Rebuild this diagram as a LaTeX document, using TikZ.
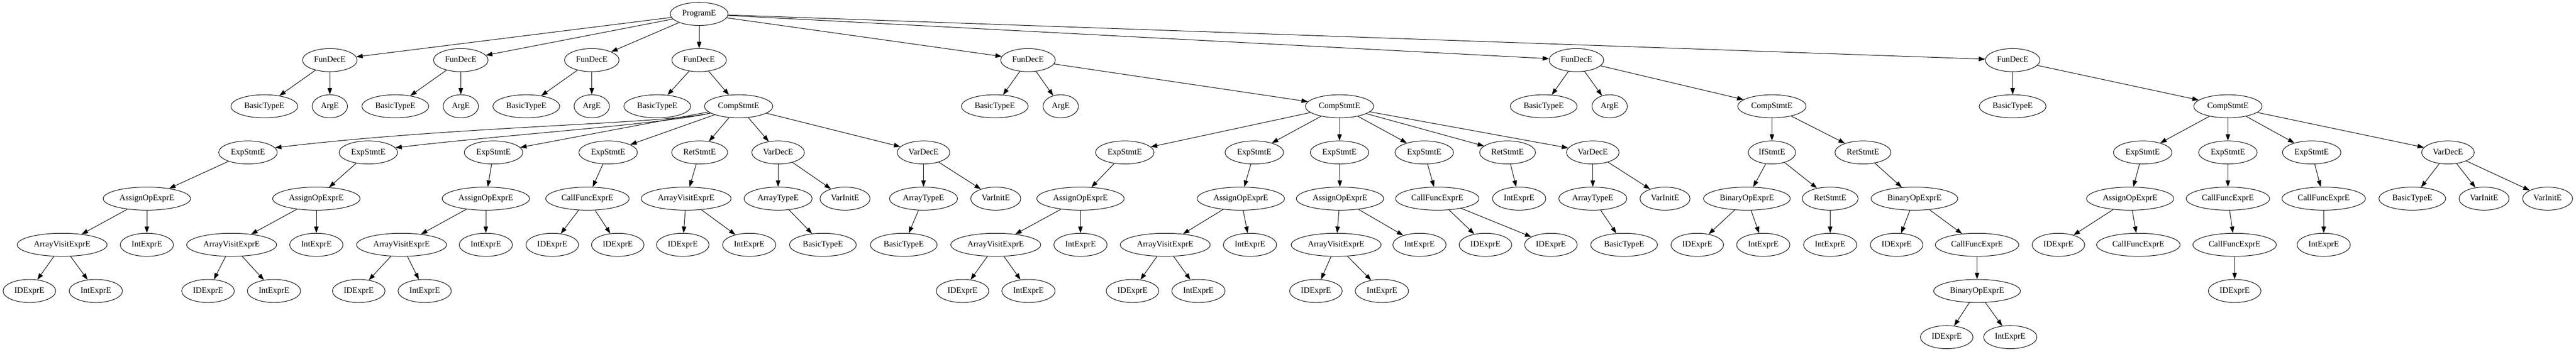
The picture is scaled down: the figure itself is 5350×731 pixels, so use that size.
\documentclass[tikz,border=0pt]{standalone}
\usepackage{fontspec}
\setmainfont{Liberation Serif}
\usepackage{tikz}
\usetikzlibrary{arrows.meta}
\usetikzlibrary{shapes.geometric}
\tikzset{
    astnode/.style={shape=ellipse, draw, line width=0.8pt, minimum width=54pt, minimum height=36pt,
        inner xsep=5.5pt, inner ysep=1pt, text height=9pt, text depth=3pt,
        font=\fontsize{13pt}{15pt}\selectfont},
    astedge/.style={->, line width=0.8pt},
    >={Triangle[length=10pt, width=7pt]}}

\begin{document}
\begin{tikzpicture}[x=0.75pt, y=-0.75pt]

        \path[fill=white, use as bounding box] (0,0) rectangle (5350,731);

        % level 0 and 1
        \node[astnode] (prog) at (1452,29) {ProgramE};
        \node[astnode] (fun1) at (685,125) {FunDecE};
        \node[astnode] (fun2) at (957,125) {FunDecE};
        \node[astnode] (fun3) at (1229,125) {FunDecE};
        \node[astnode] (fun4) at (1452,125) {FunDecE};
        \node[astnode] (fun5) at (2135,125) {FunDecE};
        \node[astnode] (fun6) at (3274,125) {FunDecE};
        \node[astnode] (fun7) at (4180,125) {FunDecE};

        % level 2
        \node[astnode] (typ1) at (549,221) {BasicTypeE};
        \node[astnode] (arg1) at (685,221) {ArgE};
        \node[astnode] (typ2) at (821,221) {BasicTypeE};
        \node[astnode] (arg2) at (957,221) {ArgE};
        \node[astnode] (typ3) at (1093,221) {BasicTypeE};
        \node[astnode] (arg3) at (1229,221) {ArgE};
        \node[astnode] (typ4) at (1365,221) {BasicTypeE};
        \node[astnode] (comp4) at (1534,221) {CompStmtE};
        \node[astnode] (typ5) at (2066,221) {BasicTypeE};
        \node[astnode] (arg5) at (2203,221) {ArgE};
        \node[astnode] (comp5) at (2782,221) {CompStmtE};
        \node[astnode] (typ6) at (3206,221) {BasicTypeE};
        \node[astnode] (arg6) at (3343,221) {ArgE};
        \node[astnode] (comp6) at (3680,221) {CompStmtE};
        \node[astnode] (typ7) at (4180,221) {BasicTypeE};
        \node[astnode] (comp7) at (4627,221) {CompStmtE};

        % level 3
        \node[astnode] (s41) at (515,317) {ExpStmtE};
        \node[astnode] (s42) at (765,317) {ExpStmtE};
        \node[astnode] (s43) at (1025,317) {ExpStmtE};
        \node[astnode] (s44) at (1263,317) {ExpStmtE};
        \node[astnode] (s45) at (1453,317) {RetStmtE};
        \node[astnode] (s46) at (1616,317) {VarDecE};
        \node[astnode] (s47) at (1918,317) {VarDecE};
        \node[astnode] (s51) at (2336,317) {ExpStmtE};
        \node[astnode] (s52) at (2605,317) {ExpStmtE};
        \node[astnode] (s53) at (2782,317) {ExpStmtE};
        \node[astnode] (s54) at (2958,317) {ExpStmtE};
        \node[astnode] (s55) at (3131,317) {RetStmtE};
        \node[astnode] (s56) at (3308,317) {VarDecE};
        \node[astnode] (s61) at (3680,317) {IfStmtE};
        \node[astnode] (s62) at (3869,317) {RetStmtE};
        \node[astnode] (s71) at (4450,317) {ExpStmtE};
        \node[astnode] (s72) at (4627,317) {ExpStmtE};
        \node[astnode] (s73) at (4801,317) {ExpStmtE};
        \node[astnode] (s74) at (5084,317) {VarDecE};

        % level 4
        \node[astnode] (e41) at (305,413) {AssignOpExprE};
        \node[astnode] (e42) at (657,413) {AssignOpExprE};
        \node[astnode] (e43) at (1009,413) {AssignOpExprE};
        \node[astnode] (e44) at (1220,413) {CallFuncExprE};
        \node[astnode] (e45) at (1425,413) {ArrayVisitExprE};
        \node[astnode] (e46) at (1616,413) {ArrayTypeE};
        \node[astnode] (v46) at (1755,413) {VarInitE};
        \node[astnode] (e47) at (1918,413) {ArrayTypeE};
        \node[astnode] (v47) at (2068,413) {VarInitE};
        \node[astnode] (e51) at (2244,413) {AssignOpExprE};
        \node[astnode] (e52) at (2577,413) {AssignOpExprE};
        \node[astnode] (e53) at (2783,413) {AssignOpExprE};
        \node[astnode] (e54) at (2985,413) {CallFuncExprE};
        \node[astnode] (e55) at (3155,413) {IntExprE};
        \node[astnode] (e56) at (3308,413) {ArrayTypeE};
        \node[astnode] (v56) at (3458,413) {VarInitE};
        \node[astnode] (e61) at (3628,413) {BinaryOpExprE};
        \node[astnode] (r61) at (3801,413) {RetStmtE};
        \node[astnode] (e62) at (3976,413) {BinaryOpExprE};
        \node[astnode] (e71) at (4424,413) {AssignOpExprE};
        \node[astnode] (e72) at (4627,413) {CallFuncExprE};
        \node[astnode] (e73) at (4826,413) {CallFuncExprE};
        \node[astnode] (t74) at (5010,413) {BasicTypeE};
        \node[astnode] (v74) at (5159,413) {VarInitE};
        \node[astnode] (w74) at (5291,413) {VarInitE};

        % level 5
        \node[astnode] (av41) at (129,509) {ArrayVisitExprE};
        \node[astnode] (n41) at (305,509) {IntExprE};
        \node[astnode] (av42) at (481,509) {ArrayVisitExprE};
        \node[astnode] (n42) at (657,509) {IntExprE};
        \node[astnode] (av43) at (834,509) {ArrayVisitExprE};
        \node[astnode] (n43) at (1009,509) {IntExprE};
        \node[astnode] (id44a) at (1147,509) {IDExprE};
        \node[astnode] (id44b) at (1283,509) {IDExprE};
        \node[astnode] (id45) at (1418,509) {IDExprE};
        \node[astnode] (n45) at (1556,509) {IntExprE};
        \node[astnode] (bt46) at (1709,509) {BasicTypeE};
        \node[astnode] (bt47) at (1877,509) {BasicTypeE};
        \node[astnode] (av51) at (2068,509) {ArrayVisitExprE};
        \node[astnode] (n51) at (2244,509) {IntExprE};
        \node[astnode] (av52) at (2420,509) {ArrayVisitExprE};
        \node[astnode] (n52) at (2596,509) {IntExprE};
        \node[astnode] (av53) at (2775,509) {ArrayVisitExprE};
        \node[astnode] (n53) at (2948,509) {IntExprE};
        \node[astnode] (id54a) at (3085,509) {IDExprE};
        \node[astnode] (id54b) at (3221,509) {IDExprE};
        \node[astnode] (bt56) at (3373,509) {BasicTypeE};
        \node[astnode] (id61) at (3525,509) {IDExprE};
        \node[astnode] (n61) at (3662,509) {IntExprE};
        \node[astnode] (n61r) at (3801,509) {IntExprE};
        \node[astnode] (id62) at (3939,509) {IDExprE};
        \node[astnode] (cf62) at (4106,509) {CallFuncExprE};
        \node[astnode] (id71) at (4275,509) {IDExprE};
        \node[astnode] (cf71) at (4441,509) {CallFuncExprE};
        \node[astnode] (cf72) at (4641,509) {CallFuncExprE};
        \node[astnode] (n73) at (4826,509) {IntExprE};

        % level 6 and 7
        \node[astnode] (id41) at (61,605) {IDExprE};
        \node[astnode] (m41) at (199,605) {IntExprE};
        \node[astnode] (id42) at (432,605) {IDExprE};
        \node[astnode] (m42) at (569,605) {IntExprE};
        \node[astnode] (id43) at (745,605) {IDExprE};
        \node[astnode] (m43) at (882,605) {IntExprE};
        \node[astnode] (id51) at (1999,605) {IDExprE};
        \node[astnode] (m51) at (2136,605) {IntExprE};
        \node[astnode] (id52) at (2352,605) {IDExprE};
        \node[astnode] (m52) at (2489,605) {IntExprE};
        \node[astnode] (id53) at (2733,605) {IDExprE};
        \node[astnode] (m53) at (2870,605) {IntExprE};
        \node[astnode] (bo62) at (4106,605) {BinaryOpExprE};
        \node[astnode] (id72) at (4641,605) {IDExprE};
        \node[astnode] (id62b) at (4043,701) {IDExprE};
        \node[astnode] (m62b) at (4175,701) {IntExprE};

        % edges
        \draw[astedge] (prog) -- (fun1);
        \draw[astedge] (prog) -- (fun2);
        \draw[astedge] (prog) -- (fun3);
        \draw[astedge] (prog) -- (fun4);
        \draw[astedge] (prog) -- (fun5);
        \draw[astedge] (prog) -- (fun6);
        \draw[astedge] (prog) -- (fun7);

        \draw[astedge] (fun1) -- (typ1);
        \draw[astedge] (fun1) -- (arg1);
        \draw[astedge] (fun2) -- (typ2);
        \draw[astedge] (fun2) -- (arg2);
        \draw[astedge] (fun3) -- (typ3);
        \draw[astedge] (fun3) -- (arg3);
        \draw[astedge] (fun4) -- (typ4);
        \draw[astedge] (fun4) -- (comp4);
        \draw[astedge] (fun5) -- (typ5);
        \draw[astedge] (fun5) -- (arg5);
        \draw[astedge] (fun5) -- (comp5);
        \draw[astedge] (fun6) -- (typ6);
        \draw[astedge] (fun6) -- (arg6);
        \draw[astedge] (fun6) -- (comp6);
        \draw[astedge] (fun7) -- (typ7);
        \draw[astedge] (fun7) -- (comp7);

        % the two long edges pass under BasicTypeE and over the other ExpStmtE
        \draw[astedge] (comp4) .. controls (1380,258) and (950,262) .. (s41.10);
        \draw[astedge] (comp4) .. controls (1380,258) and (1050,280) .. (s42.10);
        \draw[astedge] (comp4) -- (s43);
        \draw[astedge] (comp4) -- (s44);
        \draw[astedge] (comp4) -- (s45);
        \draw[astedge] (comp4) -- (s46);
        \draw[astedge] (comp4) -- (s47);
        \draw[astedge] (s41) -- (e41);
        \draw[astedge] (s42) -- (e42);
        \draw[astedge] (s43) -- (e43);
        \draw[astedge] (s44) -- (e44);
        \draw[astedge] (s45) -- (e45);
        \draw[astedge] (s46) -- (e46);
        \draw[astedge] (s46) -- (v46);
        \draw[astedge] (s47) -- (e47);
        \draw[astedge] (s47) -- (v47);
        \draw[astedge] (e41) -- (av41);
        \draw[astedge] (e41) -- (n41);
        \draw[astedge] (e42) -- (av42);
        \draw[astedge] (e42) -- (n42);
        \draw[astedge] (e43) -- (av43);
        \draw[astedge] (e43) -- (n43);
        \draw[astedge] (e44) -- (id44a);
        \draw[astedge] (e44) -- (id44b);
        \draw[astedge] (e45) -- (id45);
        \draw[astedge] (e45) -- (n45);
        \draw[astedge] (e46) -- (bt46);
        \draw[astedge] (e47) -- (bt47);
        \draw[astedge] (av41) -- (id41);
        \draw[astedge] (av41) -- (m41);
        \draw[astedge] (av42) -- (id42);
        \draw[astedge] (av42) -- (m42);
        \draw[astedge] (av43) -- (id43);
        \draw[astedge] (av43) -- (m43);

        \draw[astedge] (comp5) -- (s51);
        \draw[astedge] (comp5) -- (s52);
        \draw[astedge] (comp5) -- (s53);
        \draw[astedge] (comp5) -- (s54);
        \draw[astedge] (comp5) -- (s55);
        \draw[astedge] (comp5) -- (s56);
        \draw[astedge] (s51) -- (e51);
        \draw[astedge] (s52) -- (e52);
        \draw[astedge] (s53) -- (e53);
        \draw[astedge] (s54) -- (e54);
        \draw[astedge] (s55) -- (e55);
        \draw[astedge] (s56) -- (e56);
        \draw[astedge] (s56) -- (v56);
        \draw[astedge] (e51) -- (av51);
        \draw[astedge] (e51) -- (n51);
        \draw[astedge] (e52) -- (av52);
        \draw[astedge] (e52) -- (n52);
        \draw[astedge] (e53) -- (av53);
        \draw[astedge] (e53) -- (n53);
        \draw[astedge] (e54) -- (id54a);
        \draw[astedge] (e54) -- (id54b);
        \draw[astedge] (e56) -- (bt56);
        \draw[astedge] (av51) -- (id51);
        \draw[astedge] (av51) -- (m51);
        \draw[astedge] (av52) -- (id52);
        \draw[astedge] (av52) -- (m52);
        \draw[astedge] (av53) -- (id53);
        \draw[astedge] (av53) -- (m53);

        \draw[astedge] (comp6) -- (s61);
        \draw[astedge] (comp6) -- (s62);
        \draw[astedge] (s61) -- (e61);
        \draw[astedge] (s61) -- (r61);
        \draw[astedge] (s62) -- (e62);
        \draw[astedge] (e61) -- (id61);
        \draw[astedge] (e61) -- (n61);
        \draw[astedge] (r61) -- (n61r);
        \draw[astedge] (e62) -- (id62);
        \draw[astedge] (e62) -- (cf62);
        \draw[astedge] (cf62) -- (bo62);
        \draw[astedge] (bo62) -- (id62b);
        \draw[astedge] (bo62) -- (m62b);

        \draw[astedge] (comp7) -- (s71);
        \draw[astedge] (comp7) -- (s72);
        \draw[astedge] (comp7) -- (s73);
        \draw[astedge] (comp7) -- (s74);
        \draw[astedge] (s71) -- (e71);
        \draw[astedge] (s72) -- (e72);
        \draw[astedge] (s73) -- (e73);
        \draw[astedge] (s74) -- (t74);
        \draw[astedge] (s74) -- (v74);
        \draw[astedge] (s74) -- (w74);
        \draw[astedge] (e71) -- (id71);
        \draw[astedge] (e71) -- (cf71);
        \draw[astedge] (e72) -- (cf72);
        \draw[astedge] (e73) -- (n73);
        \draw[astedge] (cf72) -- (id72);

\end{tikzpicture}
\end{document}
